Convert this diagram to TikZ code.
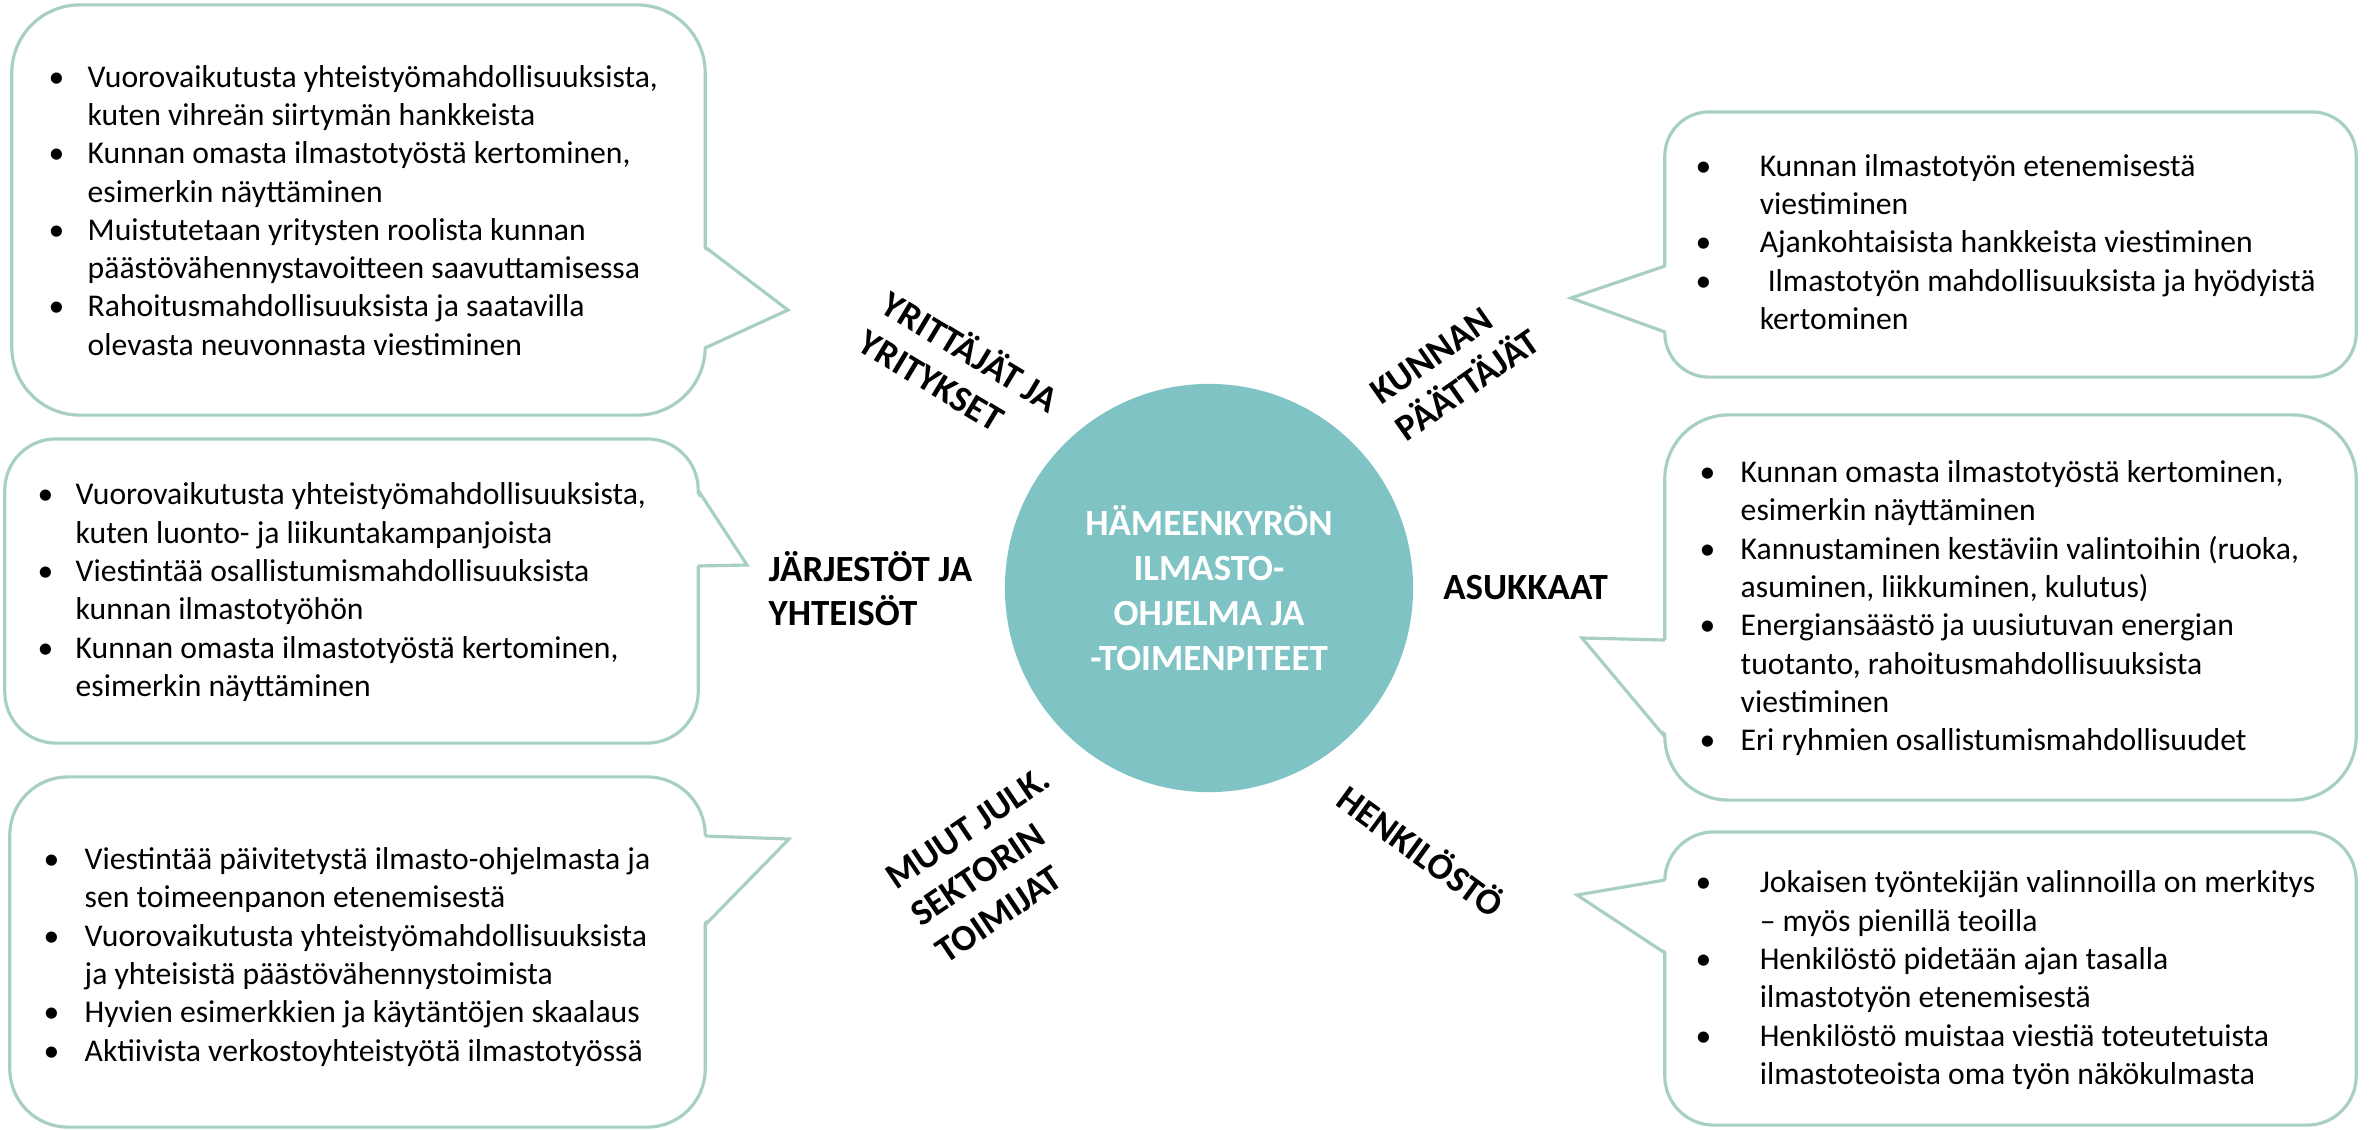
\documentclass[tikz,border=0pt]{standalone}
\usepackage{fontspec}
\setmainfont{Carlito}
\definecolor{ohjelmavari}{RGB}{128,195,196}
\definecolor{kuplavari}{RGB}{168,207,196}

\begin{document}
\begin{tikzpicture}[x = 0.01cm, y = -0.01cm,
    kupla/.style = {shape = rectangle, draw = kuplavari, line width = 0.9pt, fill = white, inner sep = 0pt},
    kuplaviiva/.style = {draw = kuplavari, line width = 0.9pt},
    teksti/.style = {anchor = west, inner sep = 0pt, font = \fontsize{9}{10.9}\selectfont},
    otsikko/.style = {inner sep = 0pt, align = left, font = \fontsize{10.5}{12.7}\selectfont\bfseries}]
    \useasboundingbox (0,0) rectangle (2369,1130);

    % puhekuplat
    \node[kupla, minimum width = 6.93cm, minimum height = 4.10cm, rounded corners = 0.68cm] (yritykset) at (358.5,210) {};
    \node[kupla, minimum width = 6.93cm, minimum height = 3.04cm, rounded corners = 0.51cm] (jarjestot) at (351.5,591) {};
    \node[kupla, minimum width = 6.95cm, minimum height = 3.50cm, rounded corners = 0.58cm] (muut) at (357.5,952) {};
    \node[kupla, minimum width = 6.91cm, minimum height = 2.65cm, rounded corners = 0.44cm] (paattajat) at (2010.5,244.5) {};
    \node[kupla, minimum width = 6.91cm, minimum height = 3.85cm, rounded corners = 0.64cm] (asukkaat) at (2010.5,607.5) {};
    \node[kupla, minimum width = 6.91cm, minimum height = 2.93cm, rounded corners = 0.49cm] (henkilosto) at (2010.5,978.5) {};

    % karjet
    \coordinate (yritykset karki) at (788,310);
    \coordinate (jarjestot karki) at (747,565);
    \coordinate (muut karki) at (789,839);
    \coordinate (paattajat karki) at (1571,298);
    \coordinate (asukkaat karki) at (1582,638);
    \coordinate (henkilosto karki) at (1577,895);
    \fill[white] (701,247) -- (yritykset karki) -- (701,348) -- cycle;
    \draw[kuplaviiva] (705,247) -- (yritykset karki) -- (705,348);
    \fill[white] (694,490) -- (jarjestot karki) -- (694,566) -- cycle;
    \draw[kuplaviiva] (698,490) -- (jarjestot karki) -- (698,566);
    \fill[white] (701,836) -- (muut karki) -- (701,925) -- cycle;
    \draw[kuplaviiva] (705,836) -- (muut karki) -- (705,925);
    \fill[white] (1669,266) -- (paattajat karki) -- (1669,332) -- cycle;
    \draw[kuplaviiva] (1665,266) -- (paattajat karki) -- (1665,332);
    \fill[white] (1669,640) -- (asukkaat karki) -- (1669,737) -- cycle;
    \draw[kuplaviiva] (1665,640) -- (asukkaat karki) -- (1665,737);
    \fill[white] (1669,880) -- (henkilosto karki) -- (1669,953) -- cycle;
    \draw[kuplaviiva] (1665,880) -- (henkilosto karki) -- (1665,953);

    % tekstit
    \node[teksti] (yritykset teksti) at (48,213.5) {\begin{tabular}{@{}p{0.39cm}@{}l@{}}
        \textbullet & Vuorovaikutusta yhteistyömahdollisuuksista,\\
        & kuten vihreän siirtymän hankkeista\\
        \textbullet & Kunnan omasta ilmastotyöstä kertominen,\\
        & esimerkin näyttäminen\\
        \textbullet & Muistutetaan yritysten roolista kunnan\\
        & päästövähennystavoitteen saavuttamisessa\\
        \textbullet & Rahoitusmahdollisuuksista ja saatavilla\\
        & olevasta neuvonnasta viestiminen
    \end{tabular}};
    \node[teksti] (jarjestot teksti) at (37,593) {\begin{tabular}{@{}p{0.38cm}@{}l@{}}
        \textbullet & Vuorovaikutusta yhteistyömahdollisuuksista,\\
        & kuten luonto- ja liikuntakampanjoista\\
        \textbullet & Viestintää osallistumismahdollisuuksista\\
        & kunnan ilmastotyöhön\\
        \textbullet & Kunnan omasta ilmastotyöstä kertominen,\\
        & esimerkin näyttäminen
    \end{tabular}};
    \node[teksti] (muut teksti) at (43,957.5) {\begin{tabular}{@{}p{0.41cm}@{}l@{}}
        \textbullet & Viestintää päivitetystä ilmasto-ohjelmasta ja\\
        & sen toimeenpanon etenemisestä\\
        \textbullet & Vuorovaikutusta yhteistyömahdollisuuksista\\
        & ja yhteisistä päästövähennystoimista\\
        \textbullet & Hyvien esimerkkien ja käytäntöjen skaalaus\\
        \textbullet & Aktiivista verkostoyhteistyötä ilmastotyössä
    \end{tabular}};
    \node[teksti] (paattajat teksti) at (1695,245) {\begin{tabular}{@{}p{0.64cm}@{}l@{}}
        \textbullet & Kunnan ilmastotyön etenemisestä\\
        & viestiminen\\
        \textbullet & Ajankohtaisista hankkeista viestiminen\\
        \textbullet & \hspace{0.08cm}Ilmastotyön mahdollisuuksista ja hyödyistä\\
        & kertominen
    \end{tabular}};
    \node[teksti] (asukkaat teksti) at (1699,609) {\begin{tabular}{@{}p{0.41cm}@{}l@{}}
        \textbullet & Kunnan omasta ilmastotyöstä kertominen,\\
        & esimerkin näyttäminen\\
        \textbullet & Kannustaminen kestäviin valintoihin (ruoka,\\
        & asuminen, liikkuminen, kulutus)\\
        \textbullet & Energiansäästö ja uusiutuvan energian\\
        & tuotanto, rahoitusmahdollisuuksista\\
        & viestiminen\\
        \textbullet & Eri ryhmien osallistumismahdollisuudet
    \end{tabular}};
    \node[teksti] (henkilosto teksti) at (1695,981) {\begin{tabular}{@{}p{0.64cm}@{}l@{}}
        \textbullet & Jokaisen työntekijän valinnoilla on merkitys\\
        & – myös pienillä teoilla\\
        \textbullet & Henkilöstö pidetään ajan tasalla\\
        & ilmastotyön etenemisestä\\
        \textbullet & Henkilöstö muistaa viestiä toteutetuista\\
        & ilmastoteoista oma työn näkökulmasta
    \end{tabular}};

    % keskusympyra ja otsikot
    \node[shape = circle, fill = ohjelmavari, minimum size = 4.08cm, inner sep = 0pt, text = white, align = center,
        font = \fontsize{10.5}{12.8}\selectfont\bfseries] (ohjelma) at (1209,588) {HÄMEENKYRÖN\\ILMASTO-\\OHJELMA JA\\-TOIMENPITEET};
    \node[otsikko, rotate = -31] (yritykset otsikko) at (960,369) {YRITTÄJÄT JA\\YRITYKSET};
    \node[otsikko, anchor = west] (jarjestot otsikko) at (768,588.5) {JÄRJESTÖT JA\\YHTEISÖT};
    \node[otsikko, rotate = 34] (muut otsikko) at (993,865) {MUUT JULK.\\SEKTORIN\\TOIMIJAT};
    \node[otsikko, rotate = 35] (paattajat otsikko) at (1455,367) {KUNNAN\\PÄÄTTÄJÄT};
    \node[otsikko] (asukkaat otsikko) at (1525.5,588) {ASUKKAAT};
    \node[otsikko, rotate = -36] (henkilosto otsikko) at (1422,850) {HENKILÖSTÖ};
\end{tikzpicture}
\end{document}
